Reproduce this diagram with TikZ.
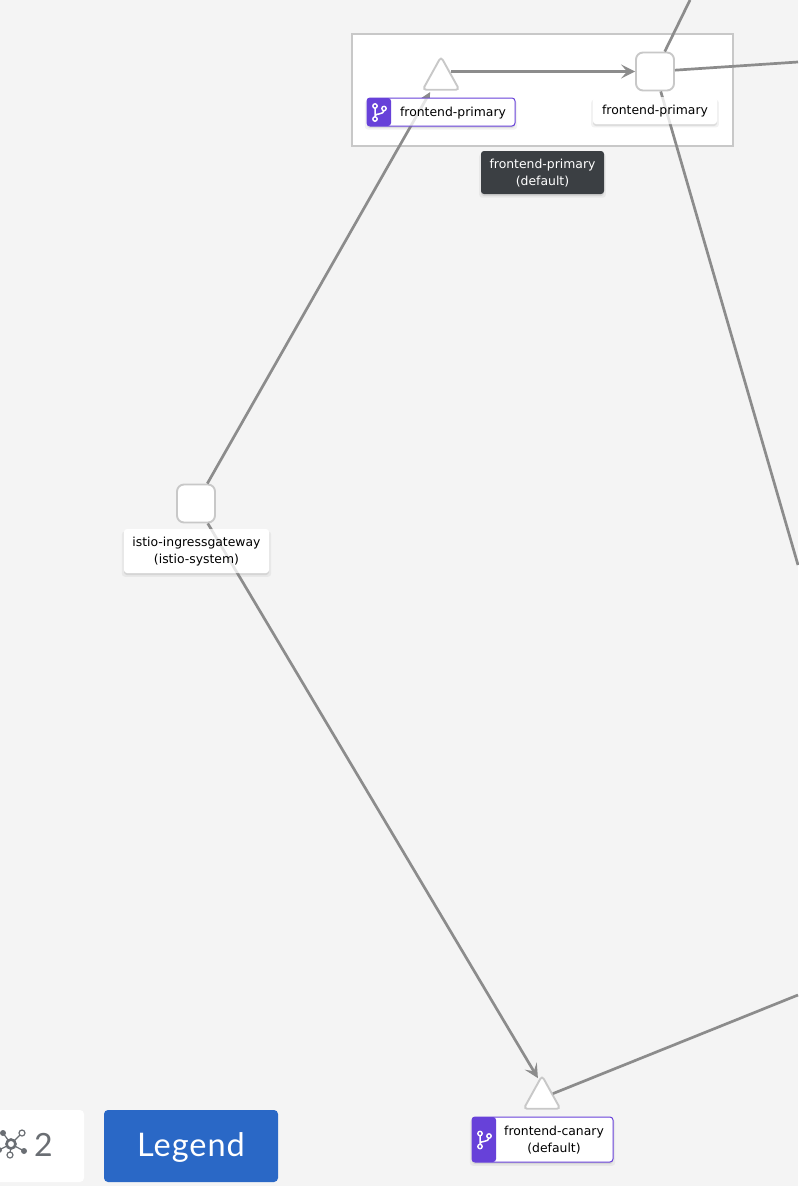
\documentclass[tikz,border=0pt]{standalone}
\usepackage{fontspec}
\setmainfont{DejaVu Sans}
\newfontfamily\btnfont[LetterSpace=3]{Lato}
\usetikzlibrary{arrows.meta,shapes.geometric,shadows}
\definecolor{canvasgray}{HTML}{F4F4F4}
\definecolor{edgegray}{HTML}{8C8C8C}
\definecolor{bordergray}{HTML}{C8C8C8}
\definecolor{tagpurple}{HTML}{6741D9}
\definecolor{tipdark}{HTML}{3B3F43}
\definecolor{btnblue}{HTML}{2A68C6}
\definecolor{icongray}{HTML}{6A6E73}
\tikzset{
  softshadow/.style={drop shadow={shadow xshift=0pt,shadow yshift=-3pt,shadow scale=1.03,opacity=.10},drop shadow={shadow xshift=0pt,shadow yshift=-2pt,opacity=.18}},
  edgeline/.style={draw=edgegray,line width=2.7pt},
  edgearrow/.style={edgeline,-{Stealth[length=14pt,width=14pt,inset=6pt]}},
  svcnode/.style={draw=bordergray,line width=1.9pt,fill=white,rounded corners=7pt,minimum size=38pt,inner sep=0pt},
  appnode/.style={isosceles triangle,isosceles triangle apex angle=58,shape border rotate=90,draw=bordergray,line width=1.9pt,fill=white,rounded corners=3.5pt,minimum height=33pt,inner sep=0pt},
  plainlabel/.style={fill=white,rounded corners=3pt,inner sep=0pt,softshadow},
  taglabel/.style={draw=tagpurple,line width=1pt,fill=white,rounded corners=3pt,inner sep=0pt,softshadow},
  seethrough/.style={draw=edgegray,draw opacity=.22,line width=2.7pt},
  labeltext/.style={font=\fontsize{12.4}{17}\selectfont,align=center,text=black,inner sep=0pt},
  branchicon/.pic={
    \draw[white,line width=1.5pt] (-4,-4) -- (-4,5) (5,-1.5) .. controls (5,3) and (-4,1) .. (-4,4);
    \foreach \a/\b in {-4/-6,5/-3.5,-4/7}{\draw[white,line width=1.4pt,fill=tagpurple] (\a,\b) circle (2.2pt);}
  }
}
\begin{document}
\begin{tikzpicture}[x=1pt,y=-1pt]
\useasboundingbox (0,0) rectangle (798,1186);
\fill[canvasgray] (0,0) rectangle (798,1186);
% group box
\node[draw=bordergray,line width=1.6pt,fill=white,minimum width=381pt,minimum height=112pt,inner sep=0pt] (primarygroup) at (542.5,90) {};
% nodes
\node[svcnode] (primarysvc) at (655,71.5) {};
\node[svcnode] (gateway) at (196,503.5) {};
% free ends
\coordinate (topexit) at (690,0);
\coordinate (rightexit) at (798,62);
\coordinate (downexit) at (798,565);
\coordinate (lowexit) at (798,995);
\coordinate (primaryaim) at (441,73);
\coordinate (canaryaim) at (542,1085);
% edges
\draw[edgearrow,shorten >=22pt] (gateway) -- (primaryaim);
\draw[edgearrow,shorten >=8pt] (gateway) -- (canaryaim);
\node[appnode] (primaryapp) at (441,79) {};
\node[appnode] (canaryapp) at (542,1098) {};
\draw[edgearrow] ([xshift=-3pt]primaryapp.east |- primarysvc) -- (primarysvc);
\draw[edgeline] (primarysvc) -- (topexit);
\draw[edgeline] (primarysvc) -- (rightexit);
\draw[edgeline] (primarysvc) -- (downexit);
\draw[edgeline] (canaryapp) -- (lowexit);
% labels
\node[plainlabel,minimum width=124pt,minimum height=27pt] (svclabel) at (655,110.5) {};
\node[plainlabel,minimum width=145pt,minimum height=44pt] (gatewaylabel) at (196.5,551) {};
\foreach \n/\x/\y/\w/\h/\tab in {primarytag/441/112/148/28/12,canarytag/542.5/1139.5/141/45/12}{
\node[taglabel,minimum width=\w pt,minimum height=\h pt,
  path picture={\fill[tagpurple] (path picture bounding box.north west) rectangle ([xshift=24pt]path picture bounding box.south west);}] (\n) at (\x,\y) {};
\pic at ({\x-\w/2+\tab},\y) {branchicon};}
% edges seen through the labels
\begin{scope}
\clip (svclabel.south west) rectangle (svclabel.north east);
\draw[seethrough] (primarysvc) -- (downexit);
\end{scope}
\begin{scope}
\clip (gatewaylabel.south west) rectangle (gatewaylabel.north east);
\draw[seethrough] (gateway) -- (canaryaim);
\end{scope}
\begin{scope}
\clip ([xshift=24pt]primarytag.south west) rectangle (primarytag.north east);
\draw[seethrough] (gateway) -- (primaryaim);
\end{scope}
\node[labeltext] (svctext) at (655,111) {frontend-primary};
\node[labeltext] (gatewaytext) at (196.5,551.5) {istio-ingressgateway\\(istio-system)};
\node[labeltext] (primarytext) at (453,113) {frontend-primary};
\node[labeltext] (canarytext) at (554,1140.5) {frontend-canary\\(default)};
\node[fill=tipdark,rounded corners=3pt,minimum width=123pt,minimum height=43pt,inner sep=0pt,softshadow,labeltext,text=white] (grouptip) at (542.5,172.5) {};
\node[labeltext,text=white] (tiptext) at (542.5,173.5) {frontend-primary\\(default)};
% toolbar
\node[fill=white,rounded corners=4pt,minimum width=104pt,minimum height=72pt,inner sep=0pt] (countbox) at (32,1146) {};
\draw[icongray,line width=1.2pt] (22,1133) -- (11,1144) (11,1144) -- (24,1151) (11,1144) -- (10,1155) (11,1144) -- (3,1133) (11,1144) -- (-1,1150);
\foreach \a/\b in {3/1133,24/1151,-1/1150}{\fill[icongray] (\a,\b) circle (3pt);}
\foreach \a/\b in {22/1133,10/1155}{\draw[icongray,line width=1.2pt,fill=white] (\a,\b) circle (3pt);}
\draw[icongray,line width=2.6pt,fill=white] (11,1144) circle (4.5pt);
\node[font=\fontsize{32}{32}\selectfont\btnfont,text=icongray,inner sep=0pt] (counttext) at (43.5,1145) {2};
\node[fill=btnblue,rounded corners=4pt,minimum width=174pt,minimum height=72pt,inner sep=0pt] (legendbtn) at (191,1146) {};
\node[text=white,inner sep=0pt,font=\fontsize{32.5}{32}\selectfont\btnfont] (legendtext) at (191,1147) {Legend};
\end{tikzpicture}
\end{document}
